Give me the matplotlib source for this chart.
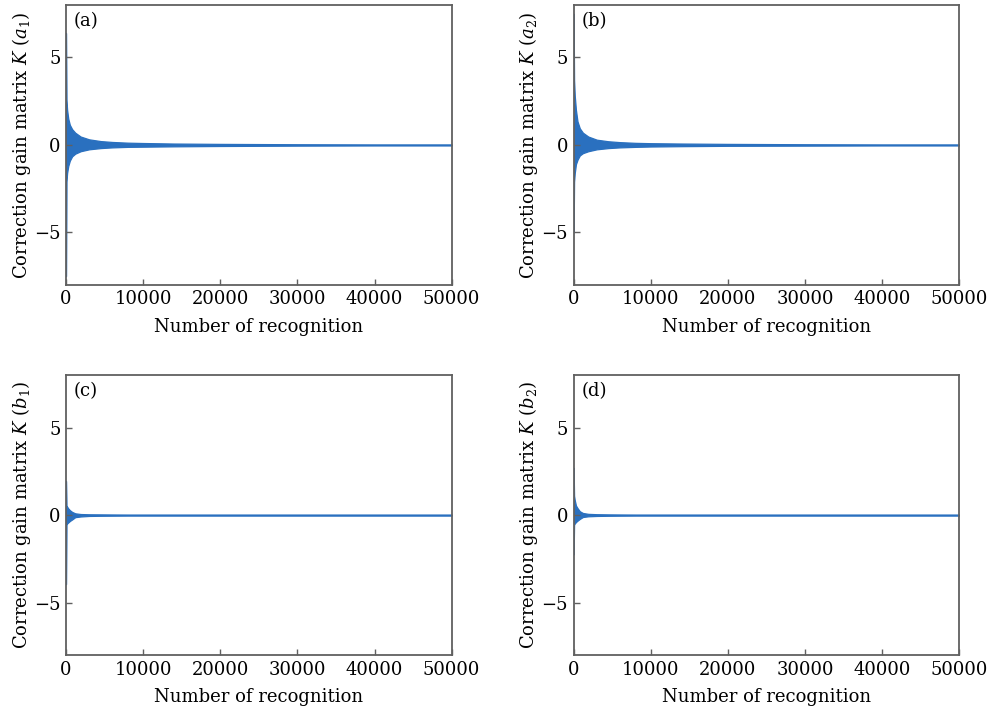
#!/usr/bin/env python3
"""Correction gain matrix K convergence, four panels (a)-(d)."""

import matplotlib
matplotlib.use("Agg")
import matplotlib.pyplot as plt

# envelope of the oscillating gain signal
# (x = number of recognition, upper/lower = extreme values of K)
env_x = [0, 60, 150, 300, 500, 800, 1200, 1900, 3000, 4500, 6000, 8000,
         10000, 14000, 20000, 30000, 40000, 50000]

a1_upper = [6.4, 2.6, 2.0, 1.5, 1.15, 0.9, 0.7, 0.48, 0.32, 0.22, 0.17, 0.13,
            0.11, 0.08, 0.06, 0.04, 0.03, 0.03]
a1_lower = [-7.5, -2.1, -1.6, -1.2, -0.9, -0.65, -0.5, -0.36, -0.25, -0.18, -0.14, -0.11,
            -0.1, -0.08, -0.06, -0.04, -0.03, -0.03]

a2_upper = [7.5, 3.7, 2.8, 2.0, 1.35, 0.95, 0.7, 0.48, 0.3, 0.21, 0.16, 0.12,
            0.1, 0.08, 0.06, 0.04, 0.03, 0.03]
a2_lower = [-5.0, -2.1, -1.6, -1.1, -0.85, -0.6, -0.47, -0.36, -0.25, -0.18, -0.14, -0.11,
            -0.09, -0.07, -0.05, -0.04, -0.03, -0.03]

b1_upper = [1.95, 0.55, 0.48, 0.38, 0.28, 0.18, 0.1, 0.06, 0.045, 0.04, 0.035, 0.03,
            0.03, 0.03, 0.03, 0.03, 0.03, 0.03]
b1_lower = [-3.95, -0.55, -0.48, -0.42, -0.34, -0.25, -0.12, -0.08, -0.05, -0.04, -0.035, -0.03,
            -0.03, -0.03, -0.03, -0.03, -0.03, -0.03]

b2_upper = [2.7, 1.1, 0.85, 0.55, 0.4, 0.22, 0.12, 0.07, 0.05, 0.04, 0.035, 0.03,
            0.03, 0.03, 0.03, 0.03, 0.03, 0.03]
b2_lower = [-2.25, -0.55, -0.48, -0.4, -0.32, -0.22, -0.11, -0.07, -0.05, -0.04, -0.035, -0.03,
            -0.03, -0.03, -0.03, -0.03, -0.03, -0.03]

panels = ["(a)", "(b)", "(c)", "(d)"]
params = ["a_1", "a_2", "b_1", "b_2"]
uppers = [a1_upper, a2_upper, b1_upper, b2_upper]
lowers = [a1_lower, a2_lower, b1_lower, b2_lower]

x_ticks = [0, 10000, 20000, 30000, 40000, 50000]
y_ticks = [-5, 0, 5]

BLUE = "#2a70bf"
SPINE = "#606060"

plt.rcParams["font.family"] = ["DejaVu Serif"]
plt.rcParams["mathtext.fontset"] = "dejavuserif"
plt.rcParams["font.size"] = 13

fig = plt.figure(figsize=(9.89, 7.14), dpi=100)
boxes = [(0.0667, 0.601), (0.580, 0.601), (0.0667, 0.0826), (0.580, 0.0826)]

for (left, bottom), tag, par, up, lo in zip(boxes, panels, params, uppers, lowers):
    ax = fig.add_axes([left, bottom, 0.390, 0.392])
    ax.fill_between(env_x, lo, up, color=BLUE, linewidth=0.9, edgecolor=BLUE)
    ax.set_xlim(0, 50000)
    ax.set_ylim(-8, 8)
    ax.set_xticks(x_ticks)
    ax.set_yticks(y_ticks)
    ax.set_yticklabels(["\u22125", "0", "5"])
    ax.tick_params(direction="in", length=4, width=1, color=SPINE, top=False, right=False,
                   pad=4)
    for sp in ax.spines.values():
        sp.set_color(SPINE)
        sp.set_linewidth(1.3)
    ax.set_xlabel("Number of recognition", labelpad=7)
    ax.set_ylabel(r"Correction gain matrix $K$ $(" + par + ")$", labelpad=1)
    ax.text(0.02, 0.975, tag, transform=ax.transAxes, ha="left", va="top")

fig.savefig("out.png", dpi=100)
